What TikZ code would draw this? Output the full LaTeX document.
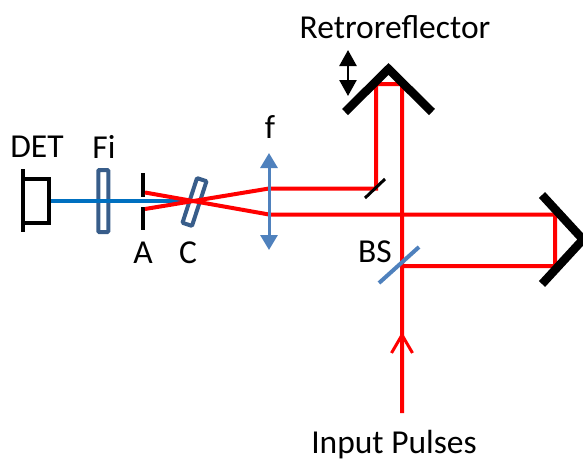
\documentclass[tikz,border=0pt]{standalone}
\usepackage{fontspec}
\setmainfont{Carlito}
\usetikzlibrary{arrows.meta,positioning}

\definecolor{beamred}{RGB}{255,0,0}
\definecolor{beamblue}{RGB}{0,112,192}
\definecolor{optblue}{RGB}{79,129,189}
\definecolor{filtblue}{RGB}{56,93,138}

\tikzset{
  beam/.style={draw=beamred,line width=4pt,line join=miter},
  mirror/.style={draw=black,line width=8.5pt,line join=miter},
  label/.style={font=\fontsize{33.5}{36}\selectfont,inner sep=0pt,text=black},
  optic/.style={draw=filtblue,line width=4pt,rounded corners=1pt,minimum width=0pt,inner sep=0pt}
}

\begin{document}
\begin{tikzpicture}[x=1pt,y=-1pt]
\useasboundingbox (0,0) rectangle (583,466);

% points of the beam path
\coordinate (fTop) at (269,188.5);
\coordinate (fBot) at (269,214.5);
\coordinate (aTop) at (145,192.5);
\coordinate (aBot) at (145,209);
\coordinate (turn) at (376,188.5);
\coordinate (rrL) at (376,84);
\coordinate (rrR) at (402,84);
\coordinate (bsC) at (402,266);
\coordinate (mTop) at (555,214.5);
\coordinate (mBot) at (555,266);
\coordinate (inEnd) at (402,413);
\coordinate (inTip) at (402,332);

% detector and filter
\node[optic,minimum width=10pt,minimum height=62pt] (fi) at (103.3,201) {};
\coordinate (detOut) at (49,201);
\coordinate (blueEnd) at (182,201);
\draw [draw=beamblue,line width=4pt] (detOut) -- (blueEnd);
\draw [line width=4pt] (23,169) -- (23,232);
\draw [line width=4pt] (23,179) -- (49,179) -- (49,223) -- (23,223);

% aperture
\draw [line width=4pt] (143,173) -- (143,197);
\draw [line width=4pt] (143,207) -- (143,230);

% crystal
\node[optic,minimum width=10pt,minimum height=47pt,rotate=-18] (cr) at (194.5,202) {};

% beams
\draw [beam] (aTop) -- (fBot) -- (mTop) -- (mBot) -- (bsC);
\draw [beam] (aBot) -- (fTop) -- (turn) -- (rrL) -- (rrR) -- (inEnd);
\draw [draw=beamred,line width=3pt,-{Straight Barb[length=18pt,width=21pt]}] (inEnd) -- (inTip);

% mirrors
\draw [mirror] (345,112) -- (388.5,69) -- (432,112);
\draw [mirror] (542,195) -- (583,239.5) -- (542,284);
\draw [line width=3pt] (365,198) -- (385,179);

% beam splitter
\draw [draw=optblue,line width=4pt] (379,283) -- (419,247);

% lens
\coordinate (lensTop) at (269,153);
\coordinate (lensBot) at (269,250);
\draw [draw=optblue,line width=3pt,{Triangle[length=15pt,width=17pt]}-{Triangle[length=15pt,width=17pt]}] (lensTop) -- (lensBot);

% retroreflector travel
\coordinate (travTop) at (348,50);
\coordinate (travBot) at (348,96);
\draw [line width=2.5pt,{Triangle[length=16pt,width=17pt]}-{Triangle[length=16pt,width=17pt]}] (travTop) -- (travBot);

% labels
\node[label] (retro) at (395,27) {Retroreflector};
\node[label] (det) at (37,147) {DET};
\node[label] (filt) at (104,147) {Fi};
\node[label] (ap) at (143,253) {A};
\node[label] (cry) at (188,253) {C};
\node[label] (lens) at (270,127) {f};
\node[label] (bs) at (375,252) {BS};
\node[label] (input) at (394,445) {Input Pulses};
\end{tikzpicture}
\end{document}
